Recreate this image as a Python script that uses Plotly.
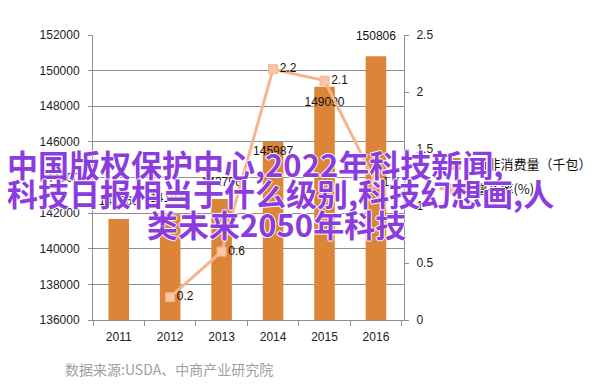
import plotly.graph_objects as go

years = ["2011", "2012", "2013", "2014", "2015", "2016"]
consumption = [141665, 141932, 142796, 145987, 149090, 150806]
growth = [None, 0.2, 0.6, 2.2, 2.1, 1.2]
growth_labels = ["", "0.2", "0.6", "2.2", "2.1", "1.2"]
bar_label_pos = ["top center", "top center", "top center", "bottom center", "bottom center", "top center"]
bar_label_gap = [16, 14, 14, 5, 14, 20]

series_bar = "南非消费量（千包）"
series_line = "增长率(%)"
title_lines = ["中国版权保护中心,2022年科技新闻,", "科技日报相当于什么级别,科技幻想画,人", "类未来2050年科技"]
source_text = "数据来源:USDA、中商产业研究院"

axis_font = dict(family="Liberation Sans, Arial, sans-serif", size=12, color="#222222")
grid_c = "#8f8f8f"

fig = go.Figure()
fig.add_trace(go.Bar(
    x=years, y=consumption, name=series_bar, legendgroup="a",
    marker=dict(color="#DC8437", line=dict(width=0)),
))
# bar value labels
fig.add_trace(go.Scatter(
    x=years, y=consumption, mode="markers+text", showlegend=False, hoverinfo="skip",
    marker=dict(size=bar_label_gap, opacity=0),
    text=[str(v) for v in consumption], textposition=bar_label_pos,
    textfont=dict(family="Liberation Sans, Arial, sans-serif", size=12, color="#111111"),
    cliponaxis=False,
))
fig.add_trace(go.Scatter(
    x=years, y=growth, name=series_line, legendgroup="b", yaxis="y2",
    mode="lines+markers+text",
    line=dict(color="#F5B48A", width=3),
    marker=dict(symbol="square", size=9, color="#F9C6A6", line=dict(color="#F5B48A", width=1)),
    text=growth_labels, textposition="middle right",
    textfont=dict(family="Liberation Sans, Arial, sans-serif", size=12, color="#111111"),
    cliponaxis=False,
))

fig.update_layout(
    width=602, height=384,
    margin=dict(l=85, r=202, t=27, b=72),
    paper_bgcolor="white", plot_bgcolor="white",
    bargap=0.6,
    showlegend=True,
    legend=dict(x=1.098, xanchor="left", y=0.6, yanchor="top",
                font=dict(family="Noto Sans CJK SC", size=13, color="#111111"),
                traceorder="grouped", tracegroupgap=5, bgcolor="rgba(0,0,0,0)"),
    xaxis=dict(type="category", categoryorder="array", categoryarray=years,
               showline=True, linecolor=grid_c, linewidth=1,
               ticks="outside", tickson="boundaries", ticklen=5, tickcolor=grid_c,
               ticklabelstandoff=6, tickfont=axis_font, showgrid=False),
    yaxis=dict(range=[136000, 152000], dtick=2000, tickformat="d",
               showline=True, linecolor=grid_c, linewidth=1,
               ticks="outside", ticklen=4, tickcolor=grid_c,
               showgrid=True, gridcolor=grid_c, gridwidth=1,
               ticklabelstandoff=6, tickfont=axis_font, zeroline=False),
    yaxis2=dict(range=[0, 2.5], dtick=0.5, overlaying="y", side="right",
                showline=True, linecolor=grid_c, linewidth=1,
                ticks="outside", ticklen=4, tickcolor=grid_c,
                showgrid=False, zeroline=False,
                ticklabelstandoff=5, tickfont=axis_font),
)

outline = "1px 0 0 white, -1px 0 0 white, 0 1px 0 white, 0 -1px 0 white"
title_font = dict(family="Noto Sans CJK SC", size=31, color="#8C3CDC", weight="bold", shadow=outline)
fig.add_annotation(text=title_lines[0], xref="paper", yref="paper", x=-0.282, y=0.55,
                   xanchor="left", yanchor="middle", showarrow=False, font=title_font)
fig.add_annotation(text=title_lines[1], xref="paper", yref="paper", x=-0.282, y=0.447,
                   xanchor="left", yanchor="middle", showarrow=False, font=title_font)
fig.add_annotation(text=title_lines[2], xref="paper", yref="paper", x=0.168, y=0.34,
                   xanchor="left", yanchor="middle", showarrow=False, font=title_font)
fig.add_annotation(text=source_text, xref="paper", yref="paper", x=-0.095, y=-0.172,
                   xanchor="left", yanchor="middle", showarrow=False,
                   font=dict(family="Noto Sans CJK SC", size=14, color="#a0a0a0"))

fig.write_html("out.html")
